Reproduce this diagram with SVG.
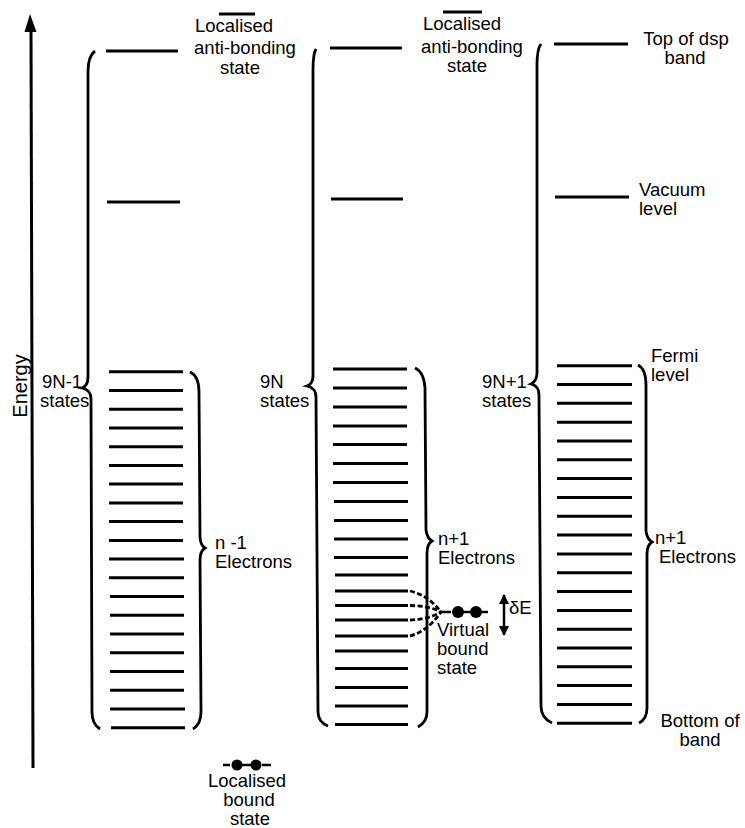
<svg xmlns="http://www.w3.org/2000/svg" width="745" height="828" viewBox="0 0 745 828">
<defs>
<style>
.lv{stroke:#000;stroke-width:3;fill:none}
.br{stroke:#000;stroke-width:2.8;fill:none;stroke-linejoin:miter}
.t{font-family:"Liberation Sans",Arial,sans-serif;font-size:18.5px;fill:#000}
.m{text-anchor:middle}
.dash{stroke:#000;stroke-width:2.8;fill:none;stroke-dasharray:5,2.5}
</style>
<marker id="ah" viewBox="0 0 10 10" refX="9" refY="5" markerWidth="10" markerHeight="10" markerUnits="userSpaceOnUse" orient="auto-start-reverse">
<path d="M0,0 L10,5 L0,10 z" fill="#000"/>
</marker>
</defs>
<rect width="745" height="828" fill="#fff"/>

<g id="energy-axis">
<line x1="31" y1="28" x2="33" y2="768" stroke="#000" stroke-width="3"/>
<polygon points="30,14 24.5,32 36.5,32" fill="#000"/>
<text class="t m" style="font-size:20px" transform="translate(27,386) rotate(-90)">Energy</text>
</g>

<g id="column-left">
<line class="lv" x1="106" y1="51" x2="178" y2="51"/>
<line class="lv" x1="107" y1="202" x2="180" y2="202"/>
<path class="br" d="M95,51 Q88,56 88,72 L88,377 Q88,386 82,388 Q91,390 91,399 L92,712 Q92,724 100,729"/>
<path class="br" d="M190,372 Q199,376 199,392 L200,536 Q200,545 205,548 Q200,551 200,560 L201,712 Q201,724 193,729"/>
<g class="lv">
<line x1="109" y1="371.7" x2="183" y2="371.7"/>
<line x1="109" y1="390.4" x2="183" y2="390.4"/>
<line x1="109" y1="409.2" x2="183" y2="409.2"/>
<line x1="109" y1="427.9" x2="183" y2="427.9"/>
<line x1="109" y1="446.7" x2="183" y2="446.7"/>
<line x1="109" y1="465.4" x2="183" y2="465.4"/>
<line x1="109" y1="484.1" x2="183" y2="484.1"/>
<line x1="109" y1="502.9" x2="183" y2="502.9"/>
<line x1="109" y1="521.6" x2="183" y2="521.6"/>
<line x1="109" y1="540.4" x2="183" y2="540.4"/>
<line x1="109" y1="559.1" x2="184" y2="559.1"/>
<line x1="109" y1="577.8" x2="184" y2="577.8"/>
<line x1="110" y1="596.6" x2="184" y2="596.6"/>
<line x1="110" y1="615.3" x2="184" y2="615.3"/>
<line x1="110" y1="634.1" x2="184" y2="634.1"/>
<line x1="110" y1="652.8" x2="184" y2="652.8"/>
<line x1="110" y1="671.5" x2="184" y2="671.5"/>
<line x1="110" y1="690.3" x2="184" y2="690.3"/>
<line x1="110" y1="709.0" x2="185" y2="709.0"/>
<line x1="111" y1="727.7" x2="185" y2="727.7"/>
</g>
</g>

<g id="column-middle">
<line class="lv" x1="330" y1="48" x2="402" y2="48"/>
<line class="lv" x1="331" y1="199" x2="403" y2="199"/>
<path class="br" d="M316,49 Q313,54 313,70 L313,376 Q313,384 307,386 Q316,388 316,397 L318,712 Q318,722 328,726"/>
<path class="br" d="M415,368 Q424,372 425,388 L426,530 Q427,538 432,541 Q427,544 427,553 L427,712 Q427,722 418,727"/>
<g class="lv">
<line x1="333" y1="369" x2="407" y2="369"/>
<line x1="333" y1="388" x2="407" y2="388"/>
<line x1="333" y1="407" x2="407" y2="407"/>
<line x1="333" y1="426" x2="407" y2="426"/>
<line x1="333" y1="444.5" x2="407" y2="444.5"/>
<line x1="333" y1="463.5" x2="408" y2="463.5"/>
<line x1="333" y1="482.5" x2="408" y2="482.5"/>
<line x1="334" y1="501.5" x2="408" y2="501.5"/>
<line x1="334" y1="520.5" x2="408" y2="520.5"/>
<line x1="334" y1="539" x2="408" y2="539"/>
<line x1="334" y1="557.5" x2="408" y2="557.5"/>
<line x1="335" y1="575" x2="408" y2="575"/>
<line x1="335" y1="591" x2="408" y2="591"/>
<line x1="335" y1="605.5" x2="408" y2="605.5"/>
<line x1="335" y1="620" x2="408" y2="620"/>
<line x1="335" y1="636" x2="408" y2="636"/>
<line x1="335" y1="651" x2="408" y2="651"/>
<line x1="335" y1="668.5" x2="408" y2="668.5"/>
<line x1="335" y1="687.5" x2="408" y2="687.5"/>
<line x1="335" y1="706" x2="408" y2="706"/>
<line x1="335" y1="724.5" x2="408" y2="724.5"/>
</g>
</g>

<g id="column-right">
<line class="lv" x1="554" y1="44" x2="628" y2="44"/>
<line class="lv" x1="555" y1="197" x2="629" y2="197"/>
<path class="br" d="M541,44 Q537,49 537,65 L537,373 Q537,381 531,384 Q539,386 539,395 L541,706 Q541,718 552,723"/>
<path class="br" d="M638,365 Q646,369 646,385 L646,531 Q647,539 652,542 Q647,545 647,554 L647,708 Q647,719 639,723"/>
<g class="lv">
<line x1="557" y1="365.7" x2="632" y2="365.7"/>
<line x1="557" y1="384.5" x2="632" y2="384.5"/>
<line x1="557" y1="403.3" x2="632" y2="403.3"/>
<line x1="557" y1="422.2" x2="632" y2="422.2"/>
<line x1="557" y1="441.0" x2="632" y2="441.0"/>
<line x1="557" y1="459.8" x2="632" y2="459.8"/>
<line x1="557" y1="478.6" x2="632" y2="478.6"/>
<line x1="557" y1="497.4" x2="632" y2="497.4"/>
<line x1="557" y1="516.3" x2="632" y2="516.3"/>
<line x1="557" y1="535.1" x2="632" y2="535.1"/>
<line x1="557" y1="553.9" x2="632" y2="553.9"/>
<line x1="557" y1="572.7" x2="632" y2="572.7"/>
<line x1="557" y1="591.5" x2="632" y2="591.5"/>
<line x1="557" y1="610.4" x2="632" y2="610.4"/>
<line x1="557" y1="629.2" x2="632" y2="629.2"/>
<line x1="557" y1="648.0" x2="632" y2="648.0"/>
<line x1="557" y1="666.8" x2="632" y2="666.8"/>
<line x1="557" y1="685.6" x2="632" y2="685.6"/>
<line x1="557" y1="704.5" x2="632" y2="704.5"/>
<line x1="557" y1="723.3" x2="632" y2="723.3"/>
</g>
</g>

<g id="label-antibonding-left">
<line class="lv" x1="219" y1="14" x2="255" y2="14"/>
<text class="t m"><tspan x="234" y="32">Localised</tspan><tspan x="245" y="54">anti-bonding</tspan><tspan x="240" y="74">state</tspan></text>
</g>
<g id="label-antibonding-middle">
<line class="lv" x1="443" y1="12" x2="482" y2="12"/>
<text class="t m"><tspan x="462" y="30">Localised</tspan><tspan x="472" y="53">anti-bonding</tspan><tspan x="467" y="72">state</tspan></text>
</g>
<g id="label-top-band">
<text class="t m"><tspan x="686" y="45">Top of dsp</tspan><tspan x="685" y="64">band</tspan></text>
</g>
<g id="label-vacuum">
<text class="t"><tspan x="639" y="196">Vacuum</tspan><tspan x="639" y="215">level</tspan></text>
</g>
<g id="label-fermi">
<text class="t"><tspan x="651" y="362">Fermi</tspan><tspan x="651" y="381">level</tspan></text>
</g>
<g id="label-bottom-band">
<text class="t m"><tspan x="700" y="727">Bottom of</tspan><tspan x="700" y="746">band</tspan></text>
</g>
<g id="label-states-left">
<text class="t"><tspan x="42" y="388">9N-1</tspan><tspan x="40" y="407">states</tspan></text>
</g>
<g id="label-states-middle">
<text class="t"><tspan x="260" y="388">9N</tspan><tspan x="260" y="407">states</tspan></text>
</g>
<g id="label-states-right">
<text class="t"><tspan x="482" y="388">9N+1</tspan><tspan x="482" y="407">states</tspan></text>
</g>
<g id="label-electrons-left">
<text class="t"><tspan x="215" y="549">n -1</tspan><tspan x="215" y="568">Electrons</tspan></text>
</g>
<g id="label-electrons-middle">
<text class="t"><tspan x="438" y="545">n+1</tspan><tspan x="438" y="564">Electrons</tspan></text>
</g>
<g id="label-electrons-right">
<text class="t"><tspan x="655" y="544">n+1</tspan><tspan x="659" y="563">Electrons</tspan></text>
</g>

<g id="virtual-bound-state">
<circle cx="458" cy="612" r="6"/>
<circle cx="476" cy="612" r="6"/>
<line x1="441" y1="612" x2="451" y2="612" stroke="#000" stroke-width="2.5"/>
<line x1="463" y1="612" x2="470" y2="612" stroke="#000" stroke-width="2.5"/>
<line x1="482" y1="612" x2="488" y2="612" stroke="#000" stroke-width="2.5"/>
<text class="t"><tspan x="437" y="636">Virtual</tspan><tspan x="437" y="655">bound</tspan><tspan x="437" y="674">state</tspan></text>
</g>
<g id="localised-bound-state">
<circle cx="237" cy="765" r="5.5"/>
<circle cx="256" cy="765" r="5.5"/>
<line x1="223" y1="765" x2="230" y2="765" stroke="#000" stroke-width="2.5"/>
<line x1="241" y1="765" x2="252" y2="765" stroke="#000" stroke-width="2.5"/>
<line x1="262" y1="765" x2="271" y2="765" stroke="#000" stroke-width="2.5"/>
<text class="t m"><tspan x="247" y="787">Localised</tspan><tspan x="249" y="806">bound</tspan><tspan x="250" y="825">state</tspan></text>
</g>
<g id="delta-e">
<text class="t" x="509" y="614">δE</text>
</g>

<g id="connectors">
<path class="dash" d="M410,591 Q428,595 441,612"/>
<path class="dash" d="M410,605.5 Q430,606 441,612"/>
<path class="dash" d="M410,620 Q430,619 441,612"/>
<path class="dash" d="M410,636 Q428,631 441,612"/>
<line x1="504" y1="595" x2="504" y2="635" stroke="#000" stroke-width="2.5" marker-start="url(#ah)" marker-end="url(#ah)"/>
</g>
</svg>
